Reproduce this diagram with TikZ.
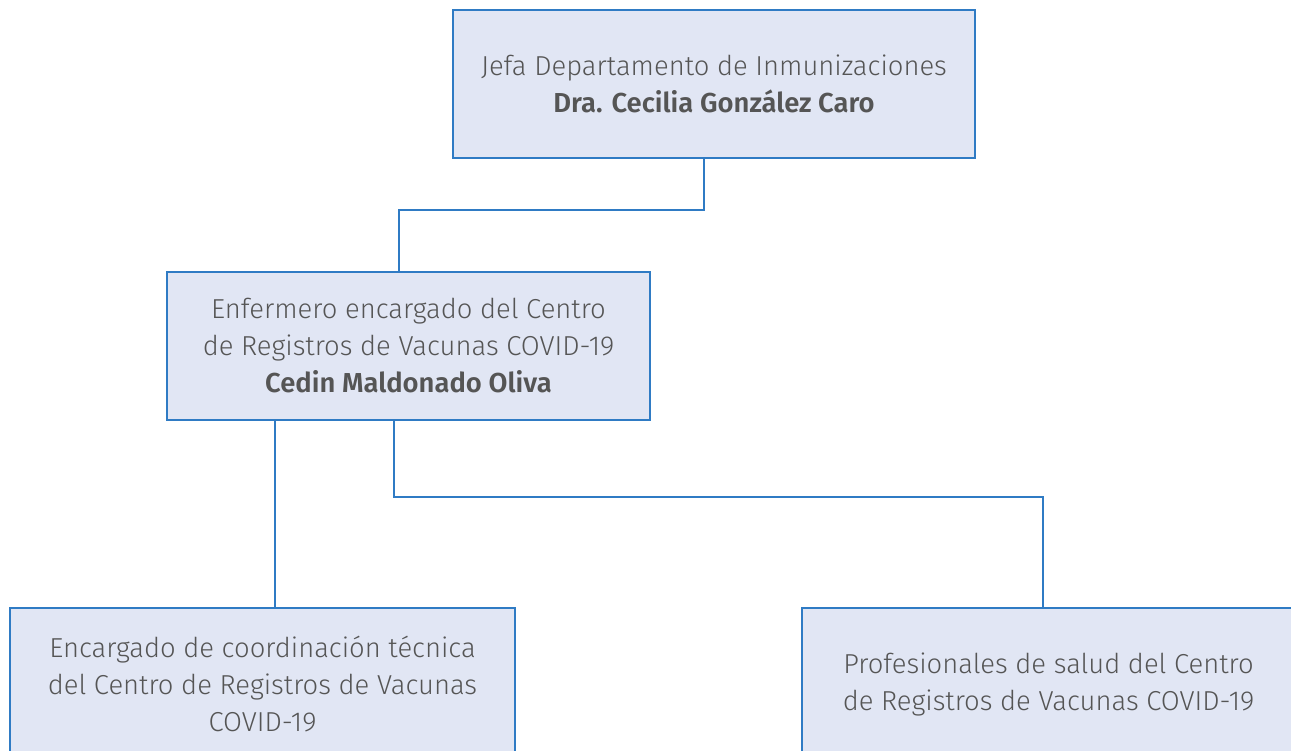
\documentclass[tikz,border=0pt]{standalone}
\usepackage{fontspec}
\setmainfont{Fira Sans Light}[BoldFont={Fira Sans SemiBold}]
\definecolor{boxfill}{HTML}{E1E6F4}
\definecolor{boxline}{HTML}{2F7BC4}
\definecolor{txt}{HTML}{555555}
\tikzset{
  orgbox/.style={draw=boxline, line width=1.2pt, fill=boxfill, text=txt, align=center, inner sep=0pt,
    font=\fontsize{27.4}{37}\selectfont},
  conn/.style={draw=boxline, line width=1.2pt}
}
\begin{document}
\begin{tikzpicture}[x=1pt,y=-1pt]
\useasboundingbox (0,0) rectangle (1291,750);
\clip (0,0) rectangle (1291,750);
\node[orgbox, minimum width=522pt, minimum height=148pt] (top) at (714,84) {Jefa Departamento de Inmunizaciones\\\textbf{Dra. Cecilia González Caro}};
\node[orgbox, minimum width=483pt, minimum height=148pt] (mid) at (408.5,346) {Enfermero encargado del Centro\\de Registros de Vacunas COVID-19\\\textbf{Cedin Maldonado Oliva}};
\node[orgbox, minimum width=505pt, minimum height=152pt] (bl) at (262.5,684) {Encargado de coordinación técnica\\del Centro de Registros de Vacunas\\COVID-19};
\node[orgbox, minimum width=493pt, minimum height=152pt] (br) at (1048.5,684) {Profesionales de salud del Centro\\de Registros de Vacunas COVID-19};
\coordinate (j1) at (704,210);
\coordinate (j2) at (394,497);
\draw[conn] (top.south -| j1) -- (j1) -- (j1 -| 399,0) -- (mid.north -| 399,0);
\draw[conn] (mid.south -| 275,0) -- (bl.north -| 275,0);
\draw[conn] (mid.south -| j2) -- (j2) -- (j2 -| 1043,0) -- (br.north -| 1043,0);
\end{tikzpicture}
\end{document}
